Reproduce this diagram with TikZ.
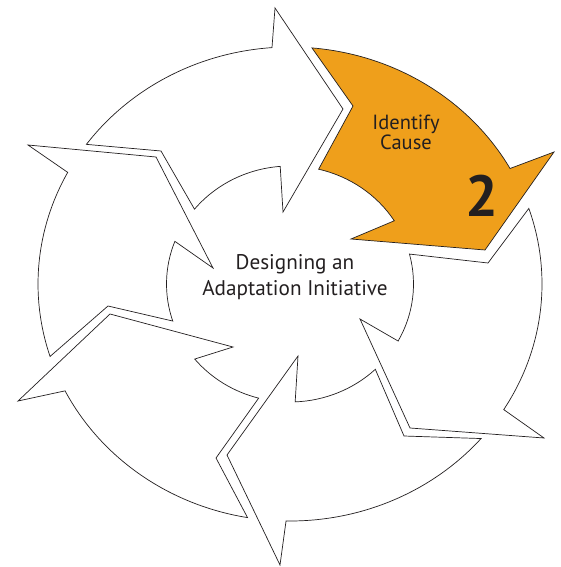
\documentclass[tikz,border=0pt]{standalone}
\usepackage{fontspec}
\setmainfont{PT Sans}
\usetikzlibrary{calc}
\definecolor{ink}{HTML}{231F20}
\definecolor{amber}{RGB}{239,159,27}
\begin{document}
\begin{tikzpicture}[x=1pt,y=-1pt,
  seg/.style={draw=ink, line width=0.7pt, fill=white, line join=miter},
  hot/.style={seg, fill=amber},
  lbl/.style={text=ink, inner sep=0pt, align=center}
]
\useasboundingbox (0,0) rectangle (561,567);
\coordinate (C) at (290,284);
% arrow 1 (top-left)
\draw[seg] ($(C)+(-143.9:252 and 237)$) arc[start angle=-143.9,end angle=-94.1,x radius=252,y radius=237]
  -- (275,8) -- (343,109) -- (283,212)
  -- ($(C)+(-94.55:123.5 and 118)$) arc[start angle=-94.55,end angle=-140.65,x radius=123.5,y radius=118]
  -- (161,151) -- cycle;
% arrow 2 (highlighted)
\draw[hot] ($(C)+(-85:252 and 237)$) arc[start angle=-85,end angle=-29.17,x radius=252,y radius=237]
  -- (554,152) -- (485,250) -- (351,239)
  -- ($(C)+(-32.4:123.5 and 118)$) arc[start angle=-32.4,end angle=-76.6,x radius=123.5,y radius=118]
  -- (353,106) -- cycle;
% arrow 3 (right)
\draw[seg] ($(C)+(-18.6:252 and 237)$) arc[start angle=-18.6,end angle=32,x radius=252,y radius=237]
  -- (544,438) -- (410,428) -- (360,319)
  -- ($(C)+(28.9:123.5 and 118)$) arc[start angle=28.9,end angle=-14.7,x radius=123.5,y radius=118]
  -- (488,263) -- cycle;
% arrow 4 (bottom)
\draw[seg] ($(C)+(40.7:252 and 237)$) arc[start angle=40.7,end angle=90.9,x radius=252,y radius=237]
  -- (280,565) -- (227,455) -- (298,356)
  -- ($(C)+(87.6:123.5 and 118)$) arc[start angle=87.6,end angle=46.3,x radius=123.5,y radius=118]
  -- (404,436) -- cycle;
% arrow 5 (bottom-left)
\draw[seg] ($(C)+(99.7:252 and 237)$) arc[start angle=99.7,end angle=153.2,x radius=252,y radius=237]
  -- (18,401) -- (110,314) -- (233,347)
  -- ($(C)+(140.5:123.5 and 118)$) arc[start angle=140.5,end angle=104.7,x radius=123.5,y radius=118]
  -- (216,458) -- cycle;
% arrow 6 (left)
\draw[seg] ($(C)+(162.2:252 and 237)$) arc[start angle=162.2,end angle=208.1,x radius=252,y radius=237]
  -- (28,145) -- (156,157) -- (213,268)
  -- ($(C)+(201.2:123.5 and 118)$) arc[start angle=201.2,end angle=161.7,x radius=123.5,y radius=118]
  -- (108,306) -- cycle;
% texts
\node[lbl, font=\fontsize{21.2}{26}\selectfont] (centre) at (295,277) {Designing an\\Adaptation Initiative};
\node[lbl, font=\fontsize{20.5}{19.5}\selectfont] (step) at (406,132.3) {Identify\\Cause};
\node[lbl, anchor=base, font=\bfseries\fontsize{58}{58}\selectfont] (num) at (482,216.5) {2};
\end{tikzpicture}
\end{document}
